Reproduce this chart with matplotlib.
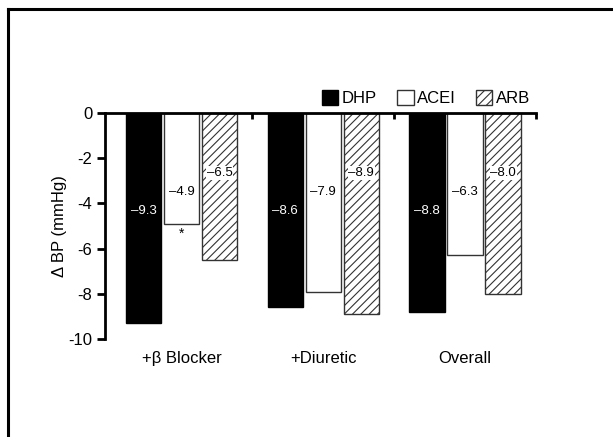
import numpy as np
import matplotlib
matplotlib.use("Agg")
import matplotlib.pyplot as plt
from matplotlib.lines import Line2D
from matplotlib.patches import Patch

plt.rcParams["font.family"] = ["Liberation Sans", "DejaVu Sans"]
plt.rcParams["axes.unicode_minus"] = False
plt.rcParams["hatch.linewidth"] = 0.8
plt.rcParams["hatch.color"] = "#333333"

groups = ["+β Blocker", "+Diuretic", "Overall"]
series = ["DHP", "ACEI", "ARB"]
dhp = [-9.3, -8.6, -8.8]
acei = [-4.9, -7.9, -6.3]
arb = [-6.5, -8.9, -8.0]
yticks = [0, -2, -4, -6, -8, -10]

W, H = 613, 437
fig = plt.figure(figsize=(W / 100, H / 100), dpi=100, facecolor="white")
ax = fig.add_axes([105 / W, 1 - 339 / H, (536 - 105) / W, (339 - 113) / H])

x = np.arange(len(groups))
bw, step = 0.25, 0.268
styles = [dict(color="black", edgecolor="black"),
          dict(color="white", edgecolor="#333333"),
          dict(color="white", edgecolor="#333333", hatch="////")]
label_y = [-4.35, -3.5, -2.65]
for i, (vals, st) in enumerate(zip([dhp, acei, arb], styles)):
    xs = x + (i - 1) * step
    ax.bar(xs, vals, width=bw, linewidth=1, **st)
    for xi, v in zip(xs, vals):
        txt = f"–{abs(v):.1f}"
        kw = dict(ha="center", va="center", fontsize=9.5,
                  color="white" if i == 0 else "black")
        if i == 2:
            kw["bbox"] = dict(boxstyle="square,pad=0.05", fc="white", ec="none")
        ax.text(xi, label_y[i], txt, **kw)

# significance marker
ax.text(x[0], -5.35, "*", ha="center", va="center", fontsize=10)

for xi, g in zip(x, groups):
    ax.text(xi, -10.85, g, ha="center", va="center", fontsize=12)

ax.set_xlim(-0.54, 2.5)
ax.set_ylim(-10, 0)
ax.set_yticks(yticks)
ax.set_yticklabels([str(t) for t in yticks], fontsize=12)
ax.xaxis.set_ticks_position("top")
ax.set_xticks([0.5, 1.5, 2.5])
ax.set_xticklabels([])
ax.tick_params(axis="x", direction="in", length=4, width=2)
ax.tick_params(axis="y", direction="out", length=6, width=2, pad=3)
for s in ["right", "bottom"]:
    ax.spines[s].set_visible(False)
for s in ["left", "top"]:
    ax.spines[s].set_linewidth(2)
ax.set_ylabel("Δ BP (mmHg)", fontsize=12, labelpad=1)

handles = [Patch(facecolor="black", edgecolor="black"),
           Patch(facecolor="white", edgecolor="#333333"),
           Patch(facecolor="white", edgecolor="#333333", hatch="////")]
ax.legend(handles, series, ncol=3, frameon=False, fontsize=12,
          loc="center right", bbox_to_anchor=(1.0 - 6 / (536 - 105), 1 + 15 / (339 - 113)),
          handlelength=1.0, handleheight=1.0, handletextpad=0.2,
          columnspacing=1.2, borderpad=0, borderaxespad=0)

# frame lines (left and top only)
fig.add_artist(Line2D([8 / W, 8 / W], [0, 1 - 9 / H], transform=fig.transFigure,
                      color="black", lw=2.2, solid_capstyle="projecting"))
fig.add_artist(Line2D([8 / W, 1], [1 - 9 / H, 1 - 9 / H], transform=fig.transFigure,
                      color="black", lw=2.2, solid_capstyle="projecting"))

fig.savefig("out.png", dpi=100, facecolor="white")
